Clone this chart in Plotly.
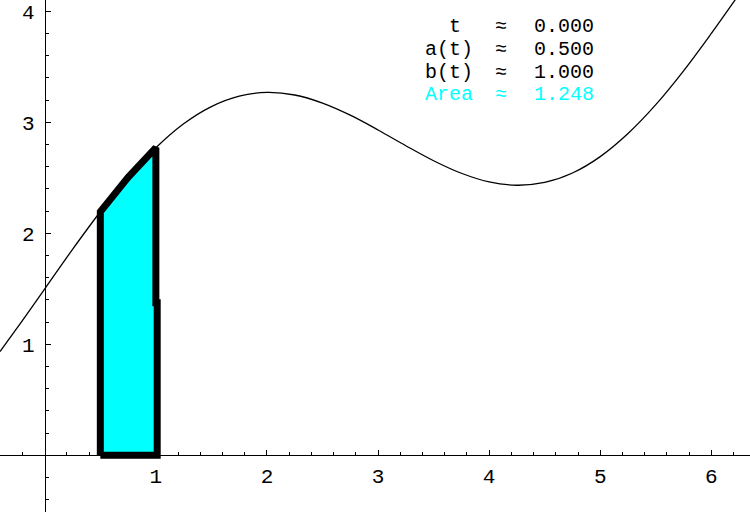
import plotly.graph_objects as go
import numpy as np

# ---- data ----
curve_x = [-0.403, -0.2, 0.0, 0.25, 0.5, 0.75, 1.0, 1.25, 1.5, 1.75, 2.0, 2.25, 2.5,
           2.75, 3.0, 3.25, 3.5, 3.75, 4.0, 4.25, 4.5, 4.75, 5.0, 5.25, 5.5, 5.75,
           6.0, 6.25, 6.35]
curve_y = [0.935, 1.215, 1.50, 1.855, 2.194, 2.504, 2.771, 2.987, 3.142, 3.236, 3.269,
           3.246, 3.173, 3.064, 2.931, 2.789, 2.654, 2.541, 2.463, 2.433, 2.458, 2.543,
           2.691, 2.899, 3.159, 3.464, 3.801, 4.154, 4.297]

area_x = [0.5, 0.5, 0.75, 1.0, 1.0, 1.012, 1.012, 0.5]
area_y = [0.0, 2.194, 2.504, 2.771, 1.375, 1.375, 0.0, 0.0]

x_ticks = [1, 2, 3, 4, 5, 6]
y_ticks = [1, 2, 3, 4]

readout_labels = ["t\u00a0", "a(t)", "b(t)", "Area"]
readout_values = ["0.000", "0.500", "1.000", "1.248"]
readout_colors = ["black", "black", "black", "#00FFFF"]

x_range = [-0.403, 6.348]
y_range = [-0.511, 4.102]

W, H = 750, 512
MONO = "Liberation Mono, Courier New, monospace"

fig = go.Figure()
fig.add_trace(go.Scatter(x=curve_x, y=curve_y, mode="lines",
                         line=dict(color="black", width=1.3, shape="spline", smoothing=1.0),
                         hoverinfo="skip", showlegend=False))
fig.add_trace(go.Scatter(x=area_x, y=area_y, mode="lines", fill="toself",
                         fillcolor="#00FFFF", line=dict(color="black", width=7),
                         hoverinfo="skip", showlegend=False))

xpos = (0 - y_range[0]) / (y_range[1] - y_range[0])
ypos = (0 - x_range[0]) / (x_range[1] - x_range[0])

minor_x = [v for v in np.round(np.arange(-0.4, 6.4, 0.2), 2) if abs(v - round(v)) > 1e-6]
minor_y = [v for v in np.round(np.arange(-0.4, 4.2, 0.2), 2) if abs(v - round(v)) > 1e-6]

axis_common = dict(showgrid=False, zeroline=False, showline=True, linecolor="black",
                   linewidth=1, ticks="inside", ticklen=5, tickwidth=1, tickcolor="black",
                   tickfont=dict(family=MONO, size=21, color="black"), anchor="free",
                   tickmode="array", automargin=False)

fig.update_layout(
    width=W, height=H, margin=dict(l=0, r=0, t=0, b=0, pad=0, autoexpand=False),
    plot_bgcolor="white", paper_bgcolor="white",
    xaxis=dict(range=x_range, tickvals=x_ticks, ticktext=[str(v) for v in x_ticks],
               position=xpos, side="bottom", ticklabelstandoff=2,
               minor=dict(tickmode="array", tickvals=minor_x, ticks="inside", ticklen=3,
                          tickcolor="black", tickwidth=1),
               **axis_common),
    yaxis=dict(range=y_range, tickvals=y_ticks, ticktext=[str(v) for v in y_ticks],
               position=ypos, side="left", ticklabelstandoff=6,
               minor=dict(tickmode="array", tickvals=minor_y, ticks="inside", ticklen=3,
                          tickcolor="black", tickwidth=1),
               **axis_common),
)

# read-out block: three column annotations (labels, ≈, values)
def col_text(items):
    return "<br>".join(
        f'<span style="font-size:20px;color:{c}">{s}</span>'
        for s, c in zip(items, readout_colors))

y_mid = 1 - 60 / H
common_ann = dict(xref="paper", yref="paper", yanchor="middle", showarrow=False,
                  font=dict(family=MONO, size=17.5, color="black"))
fig.add_annotation(x=475 / W, y=y_mid, text=col_text(readout_labels),
                   xanchor="right", align="right", **common_ann)
fig.add_annotation(x=501 / W, y=y_mid, text=col_text(["≈"] * 4),
                   xanchor="center", align="center", **common_ann)
fig.add_annotation(x=532 / W, y=y_mid, text=col_text(readout_values),
                   xanchor="left", align="left", **common_ann)

fig.write_html("out.html", config={"displayModeBar": False},
               post_script="document.body.style.margin='0px';")
